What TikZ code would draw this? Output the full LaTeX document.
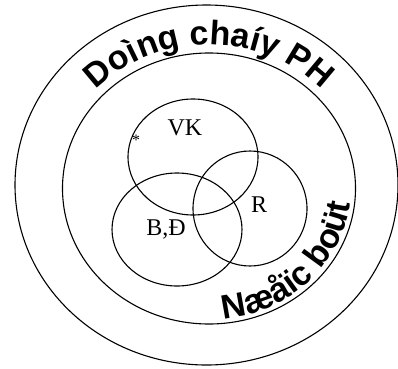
\documentclass[tikz,border=0pt]{standalone}
\usepackage{fontspec}
\setmainfont{Liberation Serif}
\setsansfont{Liberation Sans}
\usetikzlibrary{shapes.geometric,decorations.text}
\tikzset{every node/.style={font=\fontsize{24}{26}\selectfont,inner sep=0pt},
ring/.style={draw,ellipse,line width=1.1pt,inner sep=0pt},
arctext/.style={decorate,decoration={text along path,text align=center,
  text={|\sffamily\bfseries\fontsize{34}{34}\selectfont|#1}}}}

\begin{document}
\begin{tikzpicture}[x=1pt,y=1pt]
\useasboundingbox (0,0) rectangle (398,368);
% the two bands
\node[ring,minimum width=383pt,minimum height=360pt] (outer) at (206.5,183) {};
\node[ring,minimum width=293pt,minimum height=271pt] (inner) at (209,179.5) {};
% three overlapping sets
\node[ring,minimum width=130pt,minimum height=116pt] (vk) at (193,211) {};
\node[ring,minimum width=130pt,minimum height=113pt] (bd) at (177,138.5) {};
\node[ring,minimum width=114pt,minimum height=115pt] (r) at (250,159.5) {};
\node[anchor=base] (vklabel) at (185,233) {VK};
\node[anchor=base] (bdlabel) at (166,133) {B,Đ};
\node[anchor=base] (rlabel) at (259,156) {R};
\node (star) at (136,228) {\fontsize{16}{16}\selectfont *};
% curved titles
\path[arctext=Doìng chaíy PH] (inner.center) ++(150:155 and 144)
  arc[start angle=150,end angle=30,x radius=155,y radius=144];
\path[arctext=Næåïc boüt] (inner.center) ++(-90:142 and 131)
  arc[start angle=-90,end angle=0,x radius=142,y radius=131];
\end{tikzpicture}
\end{document}
